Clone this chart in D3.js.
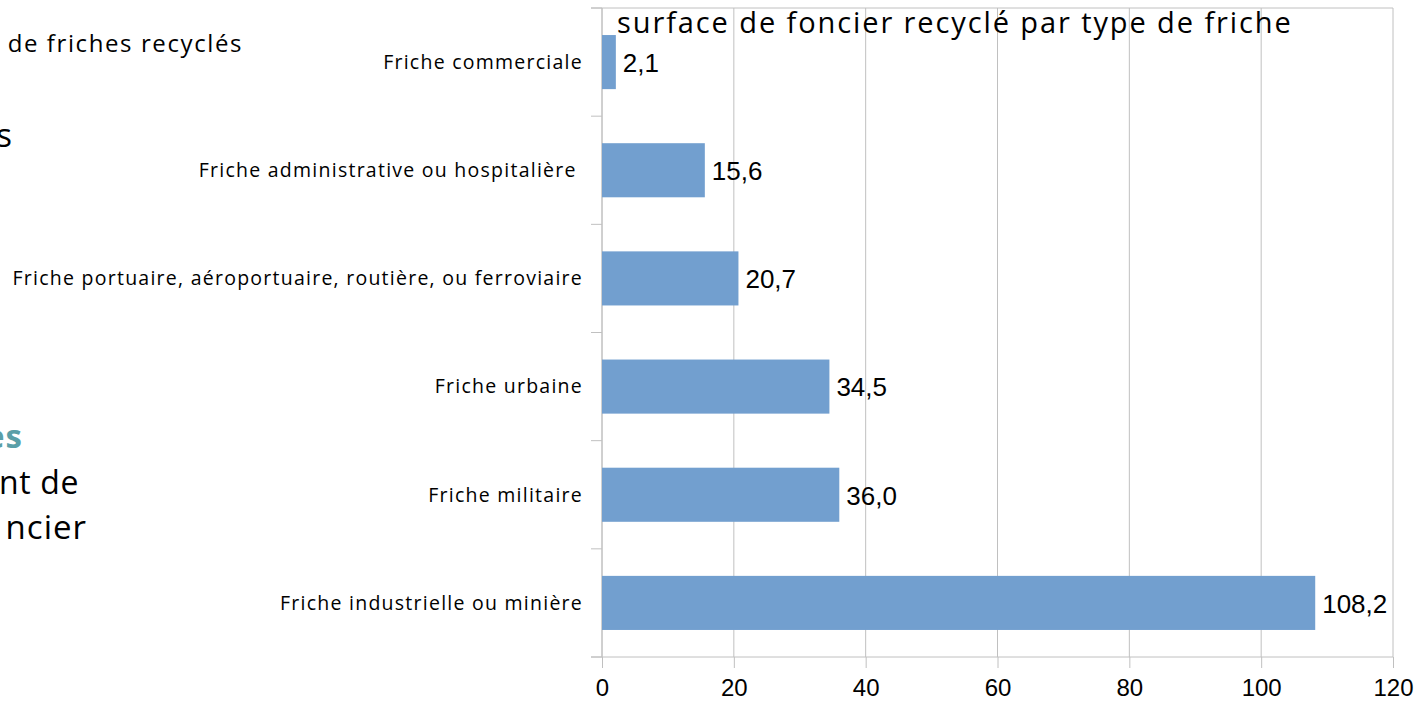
<!DOCTYPE html>
<html>
<head>
<meta charset="utf-8">
<script src="https://cdn.jsdelivr.net/npm/d3@7"></script>
<style>
  html, body { margin: 0; padding: 0; background: #fff; }
  svg { display: block; }
</style>
</head>
<body>
<svg id="chart" width="1418" height="701"></svg>
<script>
// data
const categories = [
  "Friche commerciale",
  "Friche administrative ou hospitalière ",
  "Friche portuaire, aéroportuaire, routière, ou ferroviaire",
  "Friche urbaine",
  "Friche militaire",
  "Friche industrielle ou minière"
];
const values = [2.1, 15.6, 20.7, 34.5, 36.0, 108.2];
const xTicks = [0, 20, 40, 60, 80, 100, 120];
const title = "surface de foncier recyclé par type de friche";

// fragments of the slide behind the chart (cut at the left edge)
const sideTexts = [
  { text: "de friches recyclés", x: 243, y: 52, size: 24, ls: 1.6, color: "#000", weight: 400 },
  { text: "s", x: 13, y: 147, size: 33, ls: 1, color: "#000", weight: 400 },
  { text: "es", x: 23, y: 448, size: 33, ls: 1, color: "#5a9fa8", weight: 700 },
  { text: "nt de", x: 79, y: 494, size: 32, ls: 0.6, color: "#000", weight: 400 },
  { text: "ncier", x: 87, y: 539, size: 33, ls: 1, color: "#000", weight: 400 }
];

const svg = d3.select("#chart");
const margin = { top: 8, right: 25, bottom: 44, left: 602 };
const W = 1418, H = 701;

const x = d3.scaleLinear().domain([0, 120]).range([margin.left, W - margin.right]);
const y = d3.scaleBand().domain(categories).range([margin.top, H - margin.bottom]).padding(0);
const barH = y.bandwidth() * 0.5;

const sideFont = "'Open Sans', 'Noto Sans', sans-serif";
const numFont = "'Liberation Sans', Arial, sans-serif";
const gridColor = "#c0c0c0";

svg.append("g").selectAll("text")
  .data(sideTexts)
  .join("text")
    .attr("x", d => d.x)
    .attr("y", d => d.y)
    .attr("text-anchor", "end")
    .style("font-family", sideFont)
    .style("font-size", d => d.size + "px")
    .style("font-weight", d => d.weight)
    .style("letter-spacing", d => d.ls + "px")
    .attr("fill", d => d.color)
    .text(d => d.text);

// vertical grid lines
svg.append("g").selectAll("line")
  .data(xTicks)
  .join("line")
    .attr("x1", d => x(d)).attr("x2", d => x(d))
    .attr("y1", margin.top).attr("y2", H - margin.bottom)
    .attr("stroke", gridColor).attr("stroke-width", 1);

// top border
svg.append("line")
  .attr("x1", margin.left - 11).attr("x2", x(120))
  .attr("y1", margin.top).attr("y2", margin.top)
  .attr("stroke", gridColor);

// category boundary ticks
const bounds = d3.range(categories.length + 1).map(i => margin.top + i * y.step());
svg.append("g").selectAll("line")
  .data(bounds)
  .join("line")
    .attr("x1", margin.left - 11).attr("x2", margin.left)
    .attr("y1", d => d).attr("y2", d => d)
    .attr("stroke", gridColor);

// bottom axis
const xAxis = svg.append("g")
  .attr("transform", `translate(0,${H - margin.bottom})`)
  .call(d3.axisBottom(x).tickValues(xTicks).tickSize(11).tickPadding(11).tickFormat(d3.format("d")));
xAxis.select(".domain").remove();
xAxis.selectAll(".tick line").attr("stroke", gridColor);
xAxis.selectAll("text")
  .style("font-family", numFont)
  .style("font-size", "24px")
  .attr("fill", "#000");
svg.append("line")
  .attr("x1", margin.left - 11).attr("x2", x(120))
  .attr("y1", H - margin.bottom).attr("y2", H - margin.bottom)
  .attr("stroke", gridColor);

// left axis line
svg.append("line")
  .attr("x1", margin.left).attr("x2", margin.left)
  .attr("y1", margin.top).attr("y2", H - margin.bottom)
  .attr("stroke", gridColor);

// bars
svg.append("g").selectAll("rect")
  .data(values)
  .join("rect")
    .attr("x", x(0))
    .attr("y", (d, i) => y(categories[i]) + (y.bandwidth() - barH) / 2)
    .attr("width", d => x(d) - x(0))
    .attr("height", barH)
    .attr("fill", "#729fcf");

// value labels
const fmt = d => d3.format(".1f")(d).replace(".", ",");
svg.append("g").selectAll("text")
  .data(values)
  .join("text")
    .attr("x", d => x(d) + 7)
    .attr("y", (d, i) => y(categories[i]) + y.bandwidth() / 2)
    .attr("dy", "0.38em")
    .style("font-family", numFont)
    .style("font-size", "26px")
    .attr("fill", "#000")
    .text(fmt);

// category labels (keep the trailing space of the source label)
svg.append("g").selectAll("text")
  .data(categories)
  .join("text")
    .attr("x", margin.left - 19)
    .attr("y", d => y(d) + y.bandwidth() / 2)
    .attr("dy", "0.35em")
    .attr("text-anchor", "end")
    .style("white-space", "pre")
    .style("font-family", sideFont)
    .style("font-size", "19.5px")
    .style("letter-spacing", "1.25px")
    .attr("fill", "#000")
    .text(d => d);

// title
svg.append("text")
  .attr("x", 617)
  .attr("y", 33)
  .style("font-family", sideFont)
  .style("font-size", "29px")
  .style("letter-spacing", "1.9px")
  .attr("fill", "#000")
  .text(title);
</script>
</body>
</html>
